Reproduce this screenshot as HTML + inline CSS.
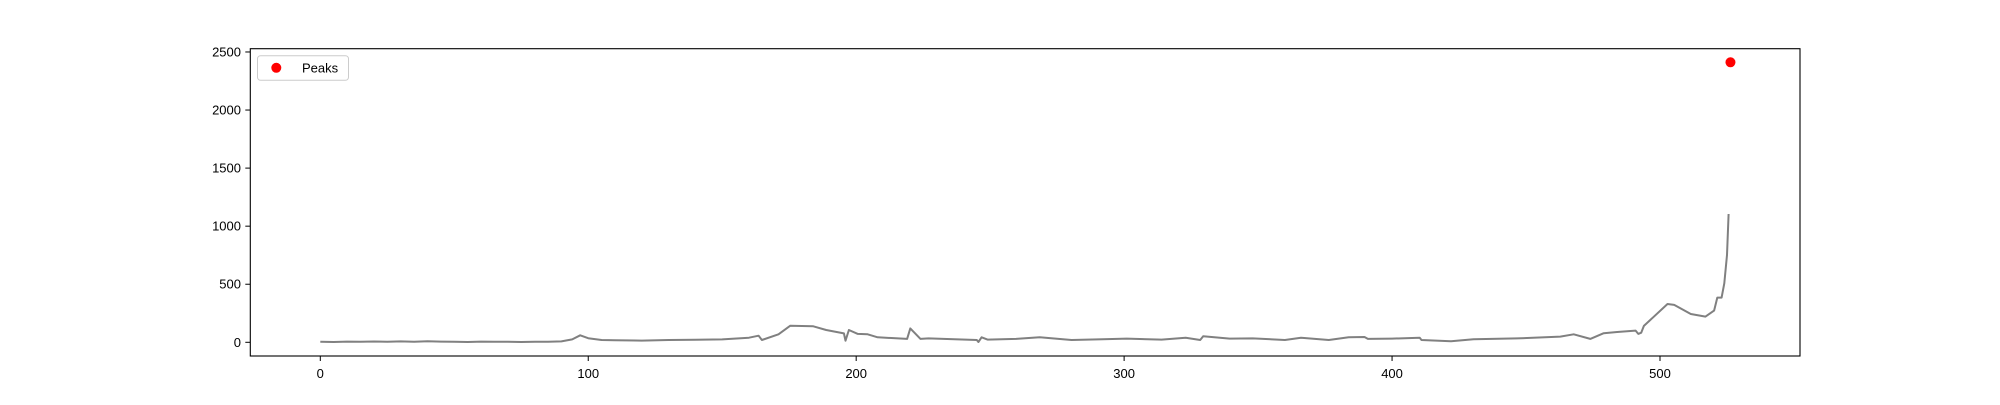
<!DOCTYPE html>
<html><head><meta charset="utf-8"><style>
body{margin:0;background:#fff}
svg text{font-family:"Liberation Sans","DejaVu Sans",sans-serif;font-size:13px;fill:#000}
</style></head><body>
<svg width="2000" height="400" xmlns="http://www.w3.org/2000/svg">
<rect width="2000" height="400" fill="#fff"/>
<g id="plot"></g>
<rect x="250.3" y="48.7" width="1549.7" height="307.3" fill="none" stroke="#000" stroke-width="1.1"/>
<g id="axes"></g>
<g>
<rect x="257.5" y="55.7" width="91" height="24.6" rx="3" fill="#fff" fill-opacity="0.8" stroke="#ccc"/>
<circle cx="276.3" cy="67.8" r="5" fill="#ff0000"/>
<text x="302" y="72.5">Peaks</text>
</g>
</svg>
<script>
const xs=[0,5,10,15,20,25,30,35,40,45,50,55,60,65,70,75,80,85,90,94,97,100,105,110,120,130,140,150,160,163.6,164.8,171,175.4,184,188.8,195.4,196,197.3,200.6,204.3,208,219,220.2,224,227,245,245.6,246.8,249,259.7,268.5,280.4,292,301,314,323,328.4,329.5,339.4,348,360,366,376.4,383.8,389.7,391,400,410.3,411,422,430.4,446.6,462.8,467.8,474,479,484,490.9,491.9,493,494,502.8,505.3,511.5,517,520.2,521.4,523,524,525,525.6];
const ys=[5,3,6,4,7,5,8,4,9,6,5,3,6,4,5,3,5,4,8,25,60,35,20,17,15,20,22,25,40,57,20,69,143,138,106,77,14,106,72,69,43,29,120,29,34,20,3,43,23,29,43,20,26,32,23,40,20,52,32,34,20,40,20,43,46,29,32,40,20,9,26,34,49,69,29,78,89,101,72,83,141,330,322,244,221,273,385,385,508,752,1105];
const peakX=[526.3];
const peakY=[2411];
const xTicks=[0,100,200,300,400,500];
const yTicks=[0,500,1000,1500,2000,2500];
const X=v=>320.3+2.6794*v, Y=v=>342.3-0.11613*v;
const NS="http://www.w3.org/2000/svg";
const plot=document.getElementById('plot'), axes=document.getElementById('axes');
function mk(t,a,p){const e=document.createElementNS(NS,t);for(const k in a)e.setAttribute(k,a[k]);p.appendChild(e);return e;}
let d=xs.map((x,i)=>(i?'L':'M')+X(x).toFixed(1)+' '+Y(ys[i]).toFixed(1)).join(' ');
const line=mk('path',{d:d,fill:'none',stroke:'#808080','stroke-width':2,'stroke-linejoin':'round'},plot);


peakX.forEach((x,i)=>{const c=mk('circle',{cx:X(x),cy:Y(peakY[i]),r:5,fill:'#ff0000'},plot);

});
xTicks.forEach(t=>{const x=X(t);
const l=mk('line',{x1:x,x2:x,y1:356,y2:361,stroke:'#000'},axes);


const tx=mk('text',{x:x,y:378,'text-anchor':'middle'},axes);tx.textContent=t;

});
yTicks.forEach(t=>{const y=Y(t);
const l=mk('line',{x1:245.3,x2:250.3,y1:y,y2:y,stroke:'#000'},axes);


const tx=mk('text',{x:241,y:y+4.5,'text-anchor':'end'},axes);tx.textContent=t;

});
</script>
</body></html>
